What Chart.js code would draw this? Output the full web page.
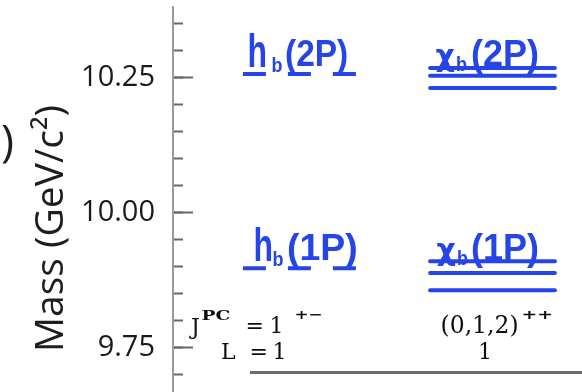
<!DOCTYPE html>
<html>
<head>
<meta charset="utf-8">
<title>Bottomonium P-wave levels</title>
<script src="https://cdn.jsdelivr.net/npm/chart.js@4.4.1/dist/chart.umd.min.js"></script>
<style>
  html, body { margin: 0; padding: 0; background: #ffffff; }
  #wrap { width: 582px; height: 392px; position: relative; overflow: hidden; }
  canvas { display: block; }
</style>
</head>
<body>
<div id="wrap"><canvas id="levels" width="582" height="392"></canvas></div>
<script>
// Spin-singlet h_b and spin-triplet chi_b P-wave bottomonium levels (GeV/c^2)
const multiplets = ['1P', '2P'];
const hbMass    = [9.897, 10.256];
const chib0Mass = [9.856, 10.230];   // J = 0
const chib1Mass = [9.888, 10.253];   // J = 1
const chib2Mass = [9.910, 10.267];   // J = 2

// Quantum-number table under the two columns
const jpcValues = ['1', '(0,1,2)'];
const pcValues  = ['+\u2212', '++'];
const lValues   = ['1', '1'];

// Y axis range and labelled ticks
const yMin = 9.668, yMax = 10.380;
const majorStep = 0.25, minorStep = 0.05;

const BLUE = '#2545e8';
const HB_COL = 1, CHI_COL = 2;
const HB_HALF = 0.30, CHI_HALF = 0.325;

function level(col, half, m, dashed) {
  return {
    data: [{ x: col - half, y: m }, { x: col + half, y: m }],
    showLine: true,
    borderColor: BLUE,
    borderWidth: 4,
    borderCapStyle: dashed ? 'butt' : 'round',
    borderDash: dashed ? [23, 22] : [],
    pointRadius: 0,
    fill: false
  };
}

const datasets = [];
multiplets.forEach((_, i) => {
  datasets.push(level(HB_COL, HB_HALF, hbMass[i], true));
  datasets.push(level(CHI_COL, CHI_HALF, chib0Mass[i], false));
  datasets.push(level(CHI_COL, CHI_HALF, chib1Mass[i], false));
  datasets.push(level(CHI_COL, CHI_HALF, chib2Mass[i], false));
});

// draw a text piece with optional stretch about its baseline origin
function piece(ctx, text, x, y, font, sx, sy, align) {
  ctx.save();
  ctx.translate(x, y);
  ctx.scale(sx || 1, sy || 1);
  ctx.font = font;
  ctx.textAlign = align || 'left';
  ctx.textBaseline = 'alphabetic';
  ctx.fillText(text, 0, 0);
  ctx.restore();
}

// per-label horizontal offsets (px) from the column centre
const hbLabelLayout = [
  { h: -47, b: -28, p: -13.5, sx: 1.04 },   // 1P
  { h: -53, b: -29, p: -15.5, sx: 0.93 }    // 2P
];
const chiLabelLayout = [
  { c: -56, b: -35.5, p: -21.5, sx: 1.0 },
  { c: -57, b: -36.5, p: -21.5, sx: 1.0 }
];

const annotations = {
  id: 'annotations',
  afterDraw(chart) {
    const ctx = chart.ctx;
    const xs = chart.scales.x, ys = chart.scales.y;
    const area = chart.chartArea;
    const hbX = xs.getPixelForValue(HB_COL);
    const chiX = xs.getPixelForValue(CHI_COL);
    const bold = (s) => 'bold ' + s + 'px "Liberation Sans", Arial, sans-serif';
    const boldDV = (s) => 'bold ' + s + 'px "DejaVu Sans", sans-serif';

    // multiplet names
    ctx.fillStyle = BLUE;
    multiplets.forEach((name, i) => {
      const row = ys.getPixelForValue(hbMass[i]) - 8.5;
      const hl = hbLabelLayout[i];
      piece(ctx, 'h', hbX + hl.h, row + 1, bold(40), 0.8, 1.15);
      piece(ctx, 'b', hbX + hl.b, row + 6.5, bold(18), 1, 1.15);
      piece(ctx, '(' + name + ')', hbX + hl.p, row, bold(36), hl.sx, 1.02);
      const cl = chiLabelLayout[i];
      piece(ctx, '\u03c7', chiX + cl.c, row, boldDV(30), 1.0, 1.0);
      piece(ctx, 'b', chiX + cl.b, row + 5.5, bold(18), 1, 1.15);
      piece(ctx, '(' + name + ')', chiX + cl.p, row, bold(36), cl.sx, 1.02);
    });

    // quantum-number table
    const rule = area.bottom - 19.5;
    const r1 = rule - 39.5, r2 = rule - 14;
    const serif = (s) => s + 'px "DejaVu Serif", serif';
    const serifB = (s) => 'bold ' + s + 'px "DejaVu Serif", serif';
    ctx.fillStyle = '#0e0e0e';
    piece(ctx, 'J', hbX - 109.5, r1 + 1, serif(22));
    piece(ctx, 'PC', hbX - 99, r1 - 13, serifB(12), 1.55, 1);
    piece(ctx, '=', hbX - 55, r1, serif(22));
    piece(ctx, jpcValues[0], hbX - 31, r1, serif(22));
    piece(ctx, pcValues[0], hbX - 6, r1 - 14, serifB(13), 1.3, 1);
    piece(ctx, 'L', hbX - 79.5, r2, serif(22));
    piece(ctx, '=', hbX - 51, r2, serif(22));
    piece(ctx, lValues[0], hbX - 28, r2, serif(22));

    piece(ctx, jpcValues[1], chiX - 52, r1, serif(23.5));
    piece(ctx, pcValues[1], chiX + 29, r1 - 14, serifB(13), 1.45, 1);
    piece(ctx, lValues[1], chiX - 7.5, r2, serif(22), 1, 1, 'center');

    ctx.save();
    ctx.strokeStyle = '#6c6c6c';
    ctx.lineWidth = 3;
    ctx.beginPath();
    ctx.moveTo(hbX - 50.5, rule);
    ctx.lineTo(area.right, rule);
    ctx.stroke();
    ctx.restore();

    // y axis title
    ctx.save();
    ctx.fillStyle = '#1e1e1e';
    ctx.translate(63, (area.top + area.bottom) / 2 + 29);
    ctx.rotate(-Math.PI / 2);
    ctx.font = '39px "Open Sans", sans-serif';
    ctx.textAlign = 'center';
    ctx.textBaseline = 'alphabetic';
    ctx.fillText('Mass (GeV/c\u00b2)', 0, 0);
    ctx.restore();

    // closing bracket of the neighbouring panel's label
    ctx.save();
    ctx.fillStyle = '#1e1e1e';
    ctx.font = '44px "Open Sans", sans-serif';
    ctx.textBaseline = 'alphabetic';
    ctx.fillText(')', 1, 156);
    ctx.restore();
  }
};

new Chart(document.getElementById('levels'), {
  type: 'scatter',
  data: { datasets },
  options: {
    responsive: false,
    animation: false,
    devicePixelRatio: 1,
    layout: { autoPadding: false, padding: { top: 7, right: 0, bottom: 0, left: 0 } },
    plugins: { legend: { display: false }, tooltip: { enabled: false } },
    scales: {
      x: { type: 'linear', min: 0.336, max: 2.466, display: false },
      y: {
        type: 'linear', position: 'left', min: yMin, max: yMax, weight: 1,
        ticks: {
          stepSize: majorStep, includeBounds: false, autoSkip: false,
          padding: 38, color: '#1a1a1a',
          font: { family: '"Open Sans", sans-serif', size: 29 },
          callback: (v) => Number(v).toFixed(2)
        },
        grid: { drawOnChartArea: false, tickLength: -20, tickWidth: 2, tickColor: '#666666' },
        border: { display: true, color: '#9b9b9b', width: 2 },
        afterFit: (s) => { s.width = 173; s.paddingTop = 0; s.paddingBottom = 0; }
      },
      yMinor: {
        type: 'linear', position: 'left', min: yMin, max: yMax, weight: 0,
        ticks: { stepSize: minorStep, includeBounds: false, display: false, maxTicksLimit: 100 },
        grid: { drawOnChartArea: false, tickLength: -10, tickWidth: 2, tickColor: '#666666' },
        border: { display: false },
        afterFit: (s) => { s.width = 0; s.paddingTop = 0; s.paddingBottom = 0; }
      }
    }
  },
  plugins: [annotations]
});
</script>
</body>
</html>
